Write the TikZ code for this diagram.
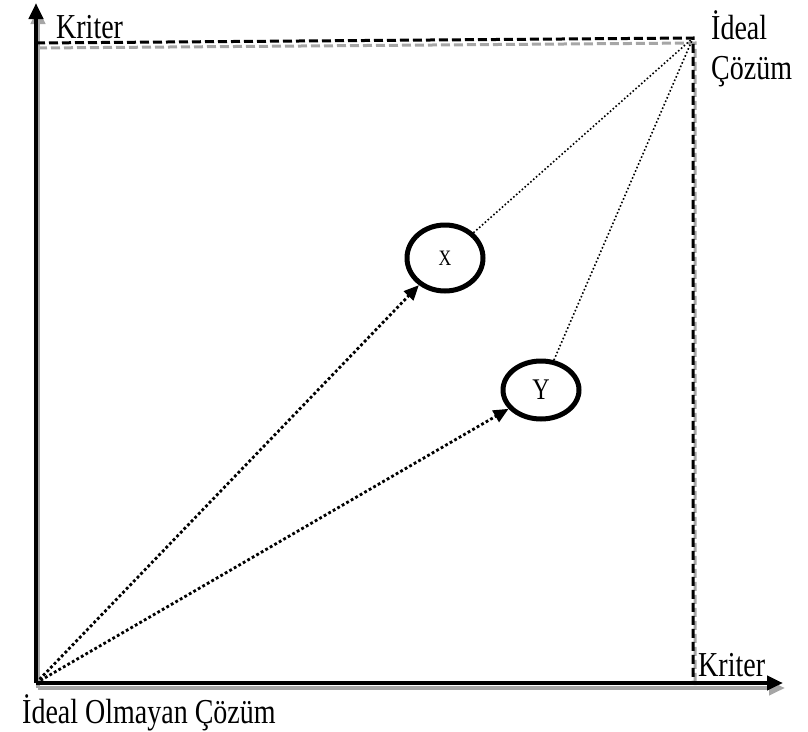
\documentclass[tikz,border=0pt]{standalone}
\usepackage{fontspec}
\setmainfont{Liberation Serif}[FakeStretch=0.8]
\usetikzlibrary{arrows.meta,shapes.geometric}
\tikzset{
  axisline/.style={line width=4pt, -{Triangle[length=16pt,width=14pt]}},
  guide/.style={line width=3pt, dash pattern=on 9pt off 4pt},
  choice/.style={draw, ellipse, line width=5pt, inner sep=0pt},
  reach/.style={line width=2.8pt, dash pattern=on 2.8pt off 2.4pt, -{Triangle[length=15pt,width=13pt]}},
  link/.style={line width=1.6pt, dash pattern=on 1.6pt off 2.2pt},
  lbl/.style={anchor=base west, inner sep=0pt}
}
\begin{document}
\begin{tikzpicture}[x=1pt, y=-1pt, font=\fontsize{35}{40}\selectfont]
    \useasboundingbox (0,0) rectangle (808,731);
    \coordinate (o) at (36,683);
    \coordinate (ytip) at (36,3);
    \coordinate (xtip) at (783,683);
    \coordinate (ktop) at (36,43);
    \coordinate (ideal) at (693,38);
    \coordinate (corner) at (693,683);
    % grey shadow first, then black
    \foreach \col/\dx/\dy in {black!35/2/5, black/0/0}
      {
        \draw[guide, \col] ([xshift=\dx pt, yshift=-\dy pt]ktop) -- ([xshift=\dx pt, yshift=-\dy pt]ideal)
          -- ([xshift=\dx pt, yshift=-\dy pt]corner);
        \draw[axisline, \col] ([xshift=\dx pt, yshift=-\dy pt]o) -- ([xshift=\dx pt, yshift=-\dy pt]ytip);
        \draw[axisline, \col] ([xshift=\dx pt, yshift=-\dy pt]o) -- ([xshift=\dx pt, yshift=-\dy pt]xtip);
      }
    \node[choice, minimum width=76pt, minimum height=66pt, font=\fontsize{22}{24}\selectfont] (x) at (445,258) {X};
    \node[choice, minimum width=76pt, minimum height=58pt, font=\fontsize{30}{32}\selectfont] (y) at (541,390) {Y};
    \draw[reach] (o) -- (x);
    \draw[reach] (o) -- (y);
    \draw[link] (x) -- (ideal);
    \draw[link] (y) -- (ideal);
    \node[lbl] (kup) at (56,38) {Kriter};
    \node[lbl] (kright) at (698,676) {Kriter};
    \node[lbl] (ideal1) at (711,39) {İdeal};
    \node[lbl] (ideal2) at (711,79) {Çözüm};
    \node[lbl] (nonideal) at (22,723) {İdeal Olmayan Çözüm};
\end{tikzpicture}
\end{document}
